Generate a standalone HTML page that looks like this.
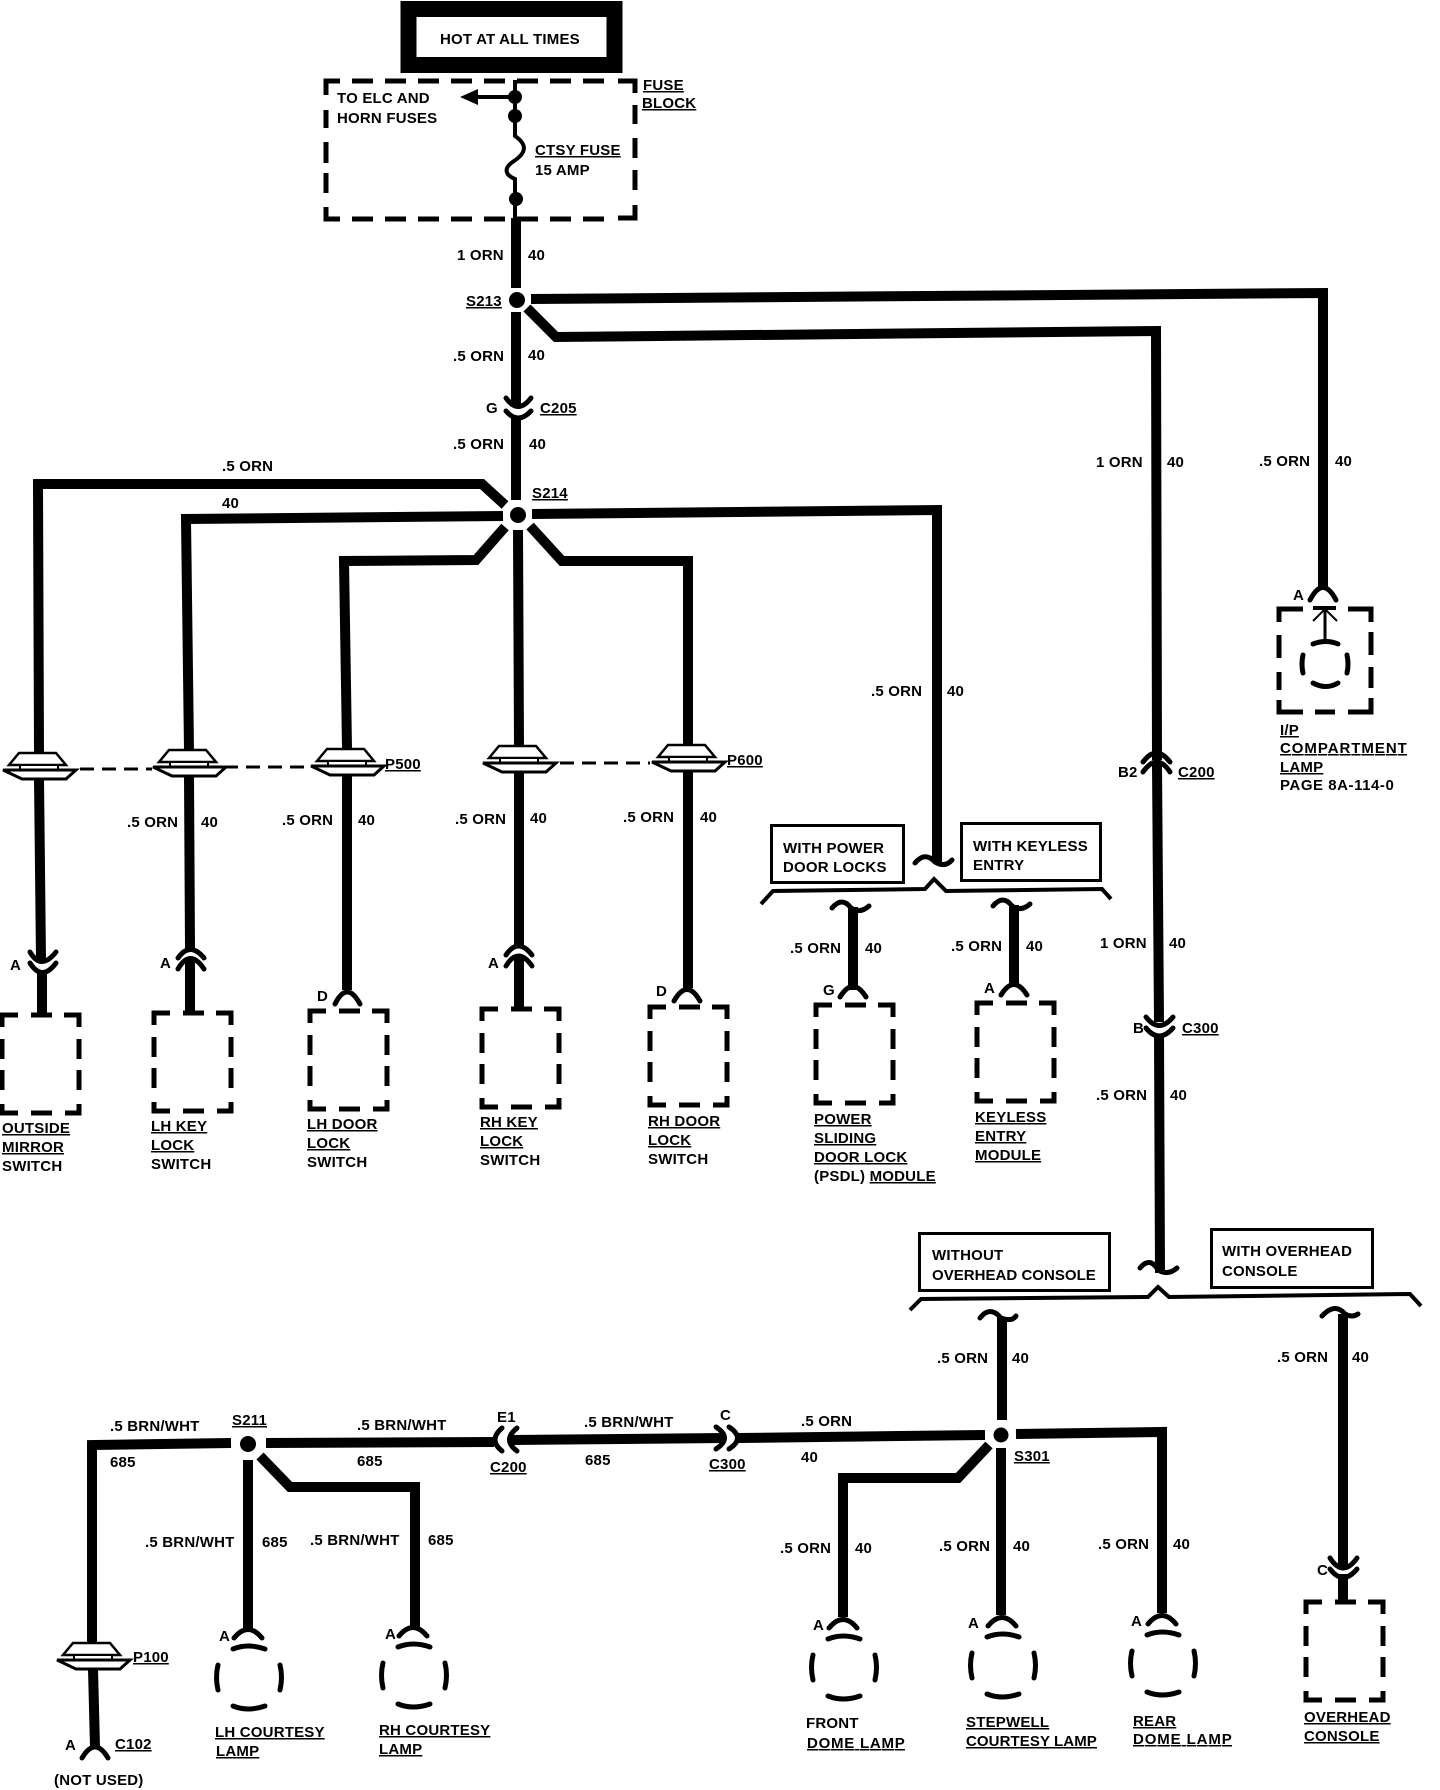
<!DOCTYPE html>
<html><head><meta charset="utf-8"><style>
html,body{margin:0;padding:0;background:#fff}
svg{display:block}
text{font-family:"Liberation Sans",sans-serif;font-weight:bold;font-size:15px;letter-spacing:.2px;fill:#000}
.u{text-decoration:underline}
.w{fill:none;stroke:#000;stroke-width:10;stroke-linejoin:miter}
.a{fill:none;stroke:#000;stroke-width:5;stroke-linecap:round}
.b{fill:none;stroke:#000;stroke-width:4}
.t{fill:none;stroke:#000;stroke-width:3}
.d{fill:none;stroke:#000;stroke-width:5}
</style></head><body>
<svg width="1440" height="1790" viewBox="0 0 1440 1790" xmlns="http://www.w3.org/2000/svg">
<defs>
<g id="plug"><path d="M-30 13L-20 1H17L27 13Z" fill="#fff" stroke="#000" stroke-width="2.500"/><rect x="-19" y="13" width="38" height="5" fill="#fff" stroke="#000" stroke-width="2"/><path d="M-36 18H37L27 27H-17Z" fill="#fff" stroke="#000" stroke-width="3"/></g>
<g id="box" class="d"><path d="M2 14V2H18M31 2H52M64 2H79V14M2 26V46M2 57V77M79 26V46M79 57V77M2 91V100H18M31 100H52M65 100H79V91"/></g>
<g id="lamp"><path class="a" d="M-14 11Q0 -6 14 11M-15 22Q0 16 17 22M-30 38Q-33 50 -30 63M32 38Q35 50 32 63M-15 79Q0 85 17 79"/></g>
</defs>

<!-- top box -->
<rect x="408.500" y="9" width="206" height="56" fill="#fff" stroke="#000" stroke-width="16"/>
<text x="440" y="44">HOT AT ALL TIMES</text>
<!-- fuse block -->
<path class="d" d="M326 95V81H340M618 81H635V93M635 105V124M635 138V158M635 170V190M635 205V218H618M340 219H326V207M326 193V173M326 163V142M326 128V110"/>
<path class="d" d="M352 81H606M352 219H606" stroke-dasharray="21 12"/>
<path fill="none" stroke="#000" stroke-width="4" d="M515 80V136C528 145 526 153 514 161C503 168 505 175 515 179V218"/>
<circle cx="515" cy="97" r="7"/><circle cx="515" cy="116" r="7"/><circle cx="516" cy="199" r="7"/>
<path fill="none" stroke="#000" stroke-width="4" d="M515 97H478"/><path d="M460 97L478 89V105Z"/>
<text x="337" y="103">TO ELC AND</text><text x="337" y="123">HORN FUSES</text>
<text x="643" y="90" class="u">FUSE</text><text x="642" y="108" class="u">BLOCK</text>
<text x="535" y="155" class="u">CTSY FUSE</text><text x="535" y="175">15 AMP</text>

<!-- main feed -->
<path class="w" d="M516 218V288M516 312V406M516 418V500"/>
<circle cx="517" cy="300" r="8"/>
<path class="w" d="M531 299L1323 293V590"/>
<path class="w" d="M527 308L556 337L1156 331L1157 760M1157 764L1159 1022M1159 1034L1160 1273"/>
<path class="a" d="M506 398Q518 415 531 398M506 411Q518 425 531 411"/>
<!-- S214 -->
<circle cx="518" cy="515" r="8"/>
<path class="w" d="M505 505L482 484H38L39 752M39 778L41 960"/>
<path class="w" d="M503 516L186 519L189 750M189 776L190 948M190 960V1011"/>
<path class="w" d="M505 527L476 560L344 561L347 748M347 775V990"/>
<path class="w" d="M518 530L519 746M519 772V946M519 958V1008"/>
<path class="w" d="M530 526L562 561H688V745M688 771V988"/>
<path class="w" d="M532 514L937 510V862"/>
<path class="w" d="M42 970V1013"/>

<!-- plugs -->
<use href="#plug" x="39" y="752"/><use href="#plug" x="189" y="749"/><use href="#plug" x="347" y="748"/><use href="#plug" x="519" y="745"/><use href="#plug" x="688" y="744"/><use href="#plug" x="93" y="1642"/>
<path fill="none" stroke="#000" stroke-width="3" stroke-dasharray="14 8" d="M80 769H152M224 767H308M560 763H650"/>
<text x="385" y="769" class="u">P500</text><text x="727" y="765" class="u">P600</text>

<!-- connectors row -->
<path class="a" d="M30 952Q41 971 56 952M30 963Q42 982 56 963"/>
<path class="a" d="M178 958Q190 941 204 958M178 969Q190 948 204 969"/>
<path class="a" d="M335 1004Q347 980 360 1004"/>
<path class="a" d="M506 955Q518 937 532 955M506 966Q518 946 532 966"/>
<path class="a" d="M674 1001Q687 978 700 1001"/>
<text x="10" y="970">A</text><text x="160" y="968">A</text><text x="317" y="1001">D</text><text x="488" y="968">A</text><text x="656" y="996">D</text>
<use href="#box" x="0" y="1013"/><use href="#box" x="152" y="1011"/><use href="#box" x="308" y="1009"/><use href="#box" x="480" y="1007"/><use href="#box" x="648" y="1005"/>
<use href="#box" x="814" y="1003"/><use href="#box" x="975" y="1001"/><use href="#box" x="1304" y="1600"/>

<text x="2" y="1133" class="u">OUTSIDE</text><text x="2" y="1152" class="u">MIRROR</text><text x="2" y="1171">SWITCH</text>
<text x="151" y="1131" class="u">LH KEY</text><text x="151" y="1150" class="u">LOCK</text><text x="151" y="1169">SWITCH</text>
<text x="307" y="1129" class="u">LH DOOR</text><text x="307" y="1148" class="u">LOCK</text><text x="307" y="1167">SWITCH</text>
<text x="480" y="1127" class="u">RH KEY</text><text x="480" y="1146" class="u">LOCK</text><text x="480" y="1165">SWITCH</text>
<text x="648" y="1126" class="u">RH DOOR</text><text x="648" y="1145" class="u">LOCK</text><text x="648" y="1164">SWITCH</text>
<text x="814" y="1124" class="u">POWER</text><text x="814" y="1143" class="u">SLIDING</text><text x="814" y="1162" class="u">DOOR LOCK</text><text x="814" y="1181">(PSDL) <tspan class="u">MODULE</tspan></text>
<text x="975" y="1122" class="u">KEYLESS</text><text x="975" y="1141" class="u">ENTRY</text><text x="975" y="1160" class="u">MODULE</text>

<!-- wire labels -->
<text x="457" y="260">1 ORN</text><text x="528" y="260">40</text>
<text x="466" y="306" class="u">S213</text>
<text x="453" y="361">.5 ORN</text><text x="528" y="360">40</text>
<text x="486" y="413">G</text><text x="540" y="413" class="u">C205</text>
<text x="453" y="449">.5 ORN</text><text x="529" y="449">40</text>
<text x="532" y="498" class="u">S214</text>
<text x="222" y="471">.5 ORN</text><text x="222" y="508">40</text>
<text x="127" y="827">.5 ORN</text><text x="201" y="827">40</text>
<text x="282" y="825">.5 ORN</text><text x="358" y="825">40</text>
<text x="455" y="824">.5 ORN</text><text x="530" y="823">40</text>
<text x="623" y="822">.5 ORN</text><text x="700" y="822">40</text>
<text x="871" y="696">.5 ORN</text><text x="947" y="696">40</text>
<text x="1096" y="467">1 ORN</text><text x="1167" y="467">40</text>
<text x="1259" y="466">.5 ORN</text><text x="1335" y="466">40</text>

<!-- IP lamp -->
<path class="a" d="M1310 600Q1323 575 1336 600"/>
<path class="d" d="M1279 622V609H1303M1348 609H1371V622M1279 635V658M1279 672V690M1371 632V655M1371 667V688M1279 700V712H1303M1315 712H1335M1348 712H1371V698"/>
<path fill="none" stroke="#000" stroke-width="4" d="M1313 608H1336"/><path fill="none" stroke="#000" stroke-width="2" d="M1313 621L1325 609L1337 621"/><path fill="none" stroke="#000" stroke-width="3" d="M1325 609V642"/>
<path class="a" d="M1313 644Q1326 639 1338 644M1303 655Q1301 664 1303 673M1347 655Q1349 664 1347 673M1313 683Q1326 690 1338 683"/>
<text x="1293" y="600">A</text>
<text x="1280" y="735" class="u">I/P</text><text x="1280" y="753" class="u" textLength="127">COMPARTMENT</text><text x="1280" y="772" class="u">LAMP</text><text x="1280" y="790" textLength="114">PAGE 8A-114-0</text>
<!-- C200 -->
<path class="a" d="M1143 762Q1156 744 1170 762M1143 772Q1157 752 1170 772"/>
<text x="1118" y="777">B2</text><text x="1178" y="777" class="u">C200</text>
<text x="1100" y="948">1 ORN</text><text x="1169" y="948">40</text>
<path class="a" d="M1146 1017Q1159 1034 1173 1017M1146 1028Q1159 1044 1173 1028"/>
<text x="1133" y="1033">B</text><text x="1182" y="1033" class="u">C300</text>
<text x="1096" y="1100">.5 ORN</text><text x="1170" y="1100">40</text>

<!-- option boxes 1 -->
<rect x="771.500" y="825.500" width="132" height="57" fill="#fff" class="t"/><text x="783" y="853">WITH POWER</text><text x="783" y="872">DOOR LOCKS</text>
<rect x="961.500" y="823.500" width="139" height="57" fill="#fff" class="t"/><text x="973" y="851">WITH KEYLESS</text><text x="973" y="870">ENTRY</text>
<path class="a" d="M915 863Q925 851 935 862Q945 868 952 860"/>
<path class="b" d="M761 904L773 891L925 889L934 879L946 891L1102 889L1111 899"/>
<path class="a" d="M832 908Q842 896 851 908Q860 914 869 906M993 906Q1003 894 1012 906Q1021 912 1030 904"/>
<path class="w" d="M853 907V990M1014 905V985"/>
<path class="a" d="M840 997Q853 976 866 997M1001 995Q1014 974 1027 995"/>
<text x="823" y="995">G</text><text x="984" y="993">A</text>
<text x="790" y="953">.5 ORN</text><text x="865" y="953">40</text>
<text x="951" y="951">.5 ORN</text><text x="1026" y="951">40</text>

<!-- option boxes 2 -->
<rect x="919.500" y="1233.500" width="190" height="57" fill="#fff" class="t"/><text x="932" y="1260">WITHOUT</text><text x="932" y="1280" textLength="164">OVERHEAD CONSOLE</text>
<rect x="1211.500" y="1229.500" width="161" height="58" fill="#fff" class="t"/><text x="1222" y="1256">WITH OVERHEAD</text><text x="1222" y="1276">CONSOLE</text>
<path class="a" d="M1140 1268Q1150 1256 1158 1270Q1168 1276 1177 1268"/>
<path class="b" d="M910 1310L921 1299L1148 1297L1158 1287L1169 1297L1410 1294L1421 1306"/>
<path class="a" d="M980 1318Q990 1305 1001 1318Q1012 1322 1016 1316M1322 1316Q1335 1302 1345 1314Q1352 1318 1358 1314"/>
<path class="w" d="M1002 1318V1420M1001 1448V1615"/>
<path class="w" d="M1343 1314V1566M1343 1574V1600"/>
<path class="a" d="M1330 1558Q1343 1578 1357 1558M1330 1569Q1343 1586 1357 1569"/>
<text x="1317" y="1575">C</text>
<text x="937" y="1363">.5 ORN</text><text x="1012" y="1363">40</text>
<text x="1277" y="1362">.5 ORN</text><text x="1352" y="1362">40</text>

<!-- bottom bus -->
<circle cx="248" cy="1444" r="8"/>
<path class="w" d="M231 1443L92 1445V1643M93 1669L95 1747"/>
<path class="w" d="M266 1443L494 1442"/>
<path class="w" d="M248 1460V1630"/>
<path class="w" d="M260 1456L290 1487H415V1628"/>
<path class="w" d="M510 1440L725 1438"/>
<path class="a" d="M502 1428Q488 1440 502 1451M517 1428Q502 1440 517 1451"/>
<path class="a" d="M716 1427Q733 1438 716 1449M729 1427Q746 1438 729 1449"/>
<path class="w" d="M738 1438L985 1435"/>
<circle cx="1001" cy="1435" r="7.500"/>
<path class="w" d="M1016 1434L1162 1432V1613"/>
<path class="w" d="M989 1445L958 1478H843V1617"/>
<path class="a" d="M82 1758Q95 1736 108 1758"/>

<text x="110" y="1431">.5 BRN/WHT</text><text x="110" y="1467">685</text>
<text x="232" y="1425" class="u">S211</text>
<text x="357" y="1430">.5 BRN/WHT</text><text x="357" y="1466">685</text>
<text x="145" y="1547">.5 BRN/WHT</text><text x="262" y="1547">685</text>
<text x="310" y="1545">.5 BRN/WHT</text><text x="428" y="1545">685</text>
<text x="133" y="1662" class="u">P100</text><text x="115" y="1749" class="u">C102</text><text x="65" y="1750">A</text><text x="54" y="1785">(NOT USED)</text>
<text x="497" y="1422">E1</text><text x="490" y="1472" class="u">C200</text>
<text x="584" y="1427">.5 BRN/WHT</text><text x="585" y="1465">685</text>
<text x="720" y="1420">C</text><text x="709" y="1469" class="u">C300</text>
<text x="801" y="1426">.5 ORN</text><text x="801" y="1462">40</text>
<text x="1014" y="1461" class="u">S301</text>

<!-- lamps -->
<use href="#lamp" x="248" y="1627"/><use href="#lamp" x="413" y="1625"/><use href="#lamp" x="843" y="1617"/><use href="#lamp" x="1002" y="1615"/><use href="#lamp" x="1162" y="1613"/>
<text x="219" y="1641">A</text><text x="385" y="1639">A</text><text x="813" y="1630">A</text><text x="968" y="1628">A</text><text x="1131" y="1626">A</text>
<text x="215" y="1737" class="u">LH COURTESY</text><text x="216" y="1756" class="u">LAMP</text>
<text x="379" y="1735" class="u">RH COURTESY</text><text x="379" y="1754" class="u">LAMP</text>
<text x="806" y="1728">FRONT</text><text x="807" y="1748" class="u" textLength="98">DOME LAMP</text>
<text x="966" y="1727" class="u">STEPWELL</text><text x="966" y="1746" class="u" textLength="131">COURTESY LAMP</text>
<text x="1133" y="1726" class="u">REAR</text><text x="1133" y="1744" class="u" textLength="99">DOME LAMP</text>
<text x="1304" y="1722" class="u">OVERHEAD</text><text x="1304" y="1741" class="u">CONSOLE</text>
<text x="780" y="1553">.5 ORN</text><text x="855" y="1553">40</text>
<text x="939" y="1551">.5 ORN</text><text x="1013" y="1551">40</text>
<text x="1098" y="1549">.5 ORN</text><text x="1173" y="1549">40</text>
</svg>
</body></html>
